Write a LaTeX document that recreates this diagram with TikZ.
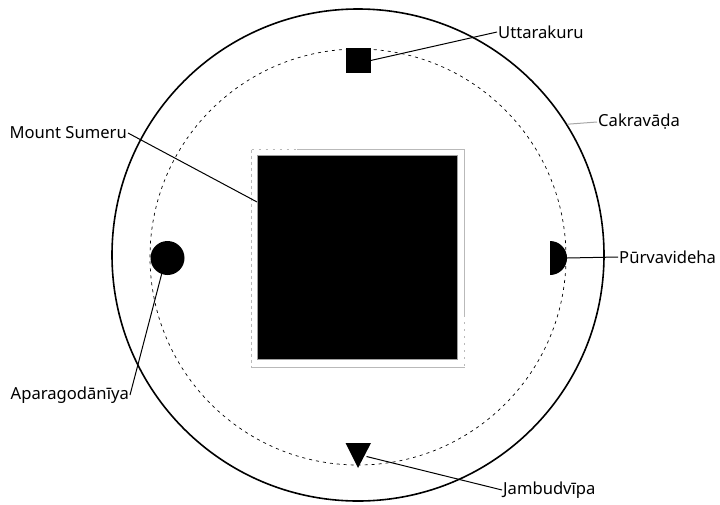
\documentclass[tikz,border=0pt]{standalone}
\usepackage{fontspec}
\setmainfont{Noto Sans}
\begin{document}
\begin{tikzpicture}[x=1pt,y=-1pt,
  lbl/.style={font=\fontsize{16.6}{19}\selectfont, inner sep=1pt},
  conn/.style={line width=1pt},
  land/.style={fill=black, inner sep=0pt}]
\useasboundingbox (0,0) rectangle (720,504);
% rings
\node[circle, draw, line width=1.6pt, minimum size=492pt, inner sep=0pt] (outer) at (358,255) {};
\node[circle, draw, dash pattern=on 3pt off 4pt, line width=0.7pt, minimum size=416pt, inner sep=0pt] (orbit) at (358,257) {};
% faint frame round Sumeru
\draw[gray!55, line width=0.5pt] (297,149.5) -- (464.5,149.5) -- (464.5,315);
\draw[gray!55, line width=0.5pt, dash pattern=on 2pt off 5pt] (251.5,149.5) -- (297,149.5);
\draw[gray!55, line width=0.5pt, dash pattern=on 2pt off 5pt] (464.5,315) -- (464.5,367.5);
\draw[gray!55, line width=0.5pt] (251.5,367.5) -- (464.5,367.5);
\draw[gray!55, line width=0.5pt, dash pattern=on 3pt off 3pt] (251.5,149.5) -- (251.5,367.5);
% Mount Sumeru
\node[land, draw=gray!75, line width=1.2pt, minimum width=200pt, minimum height=204pt] (sumeru) at (357.5,257.5) {};
% continents
\node[land, minimum size=25pt] (uttara) at (358,60.5) {};
\node[land, circle, minimum size=34pt] (apara) at (167.5,258) {};
\fill (550,275) arc[start angle=90, end angle=-90, radius=17] -- cycle;
\coordinate (purva) at (567,258);
\fill (345.5,443) -- (371,443) -- (358,468) -- cycle;
\coordinate (jambu) at (366.5,456.5);
% labels
\node[lbl, anchor=west] (luttara) at (497,32) {Uttarakuru};
\node[lbl, anchor=west] (lcakra) at (597,122) {Cakravāḍa};
\node[lbl, anchor=west] (lpurva) at (618,257) {Pūrvavideha};
\node[lbl, anchor=east] (lapara) at (130,395) {Aparagodānīya};
\node[lbl, anchor=east] (lsumeru) at (128,133) {Mount Sumeru};
\node[lbl, anchor=west] (ljambu) at (502,490) {Jambudvīpa};
% connectors
\draw[conn] (uttara.east) -- (luttara.west);
\draw[conn, gray!70] (outer.32.7) -- (lcakra.west);
\draw[conn] (purva) -- (lpurva.west);
\draw[conn] (apara.250) -- (lapara.east);
\draw[conn] (lsumeru.east) -- ([yshift=-47pt]sumeru.north west);
\draw[conn] (jambu) -- (ljambu.west);
\end{tikzpicture}
\end{document}
